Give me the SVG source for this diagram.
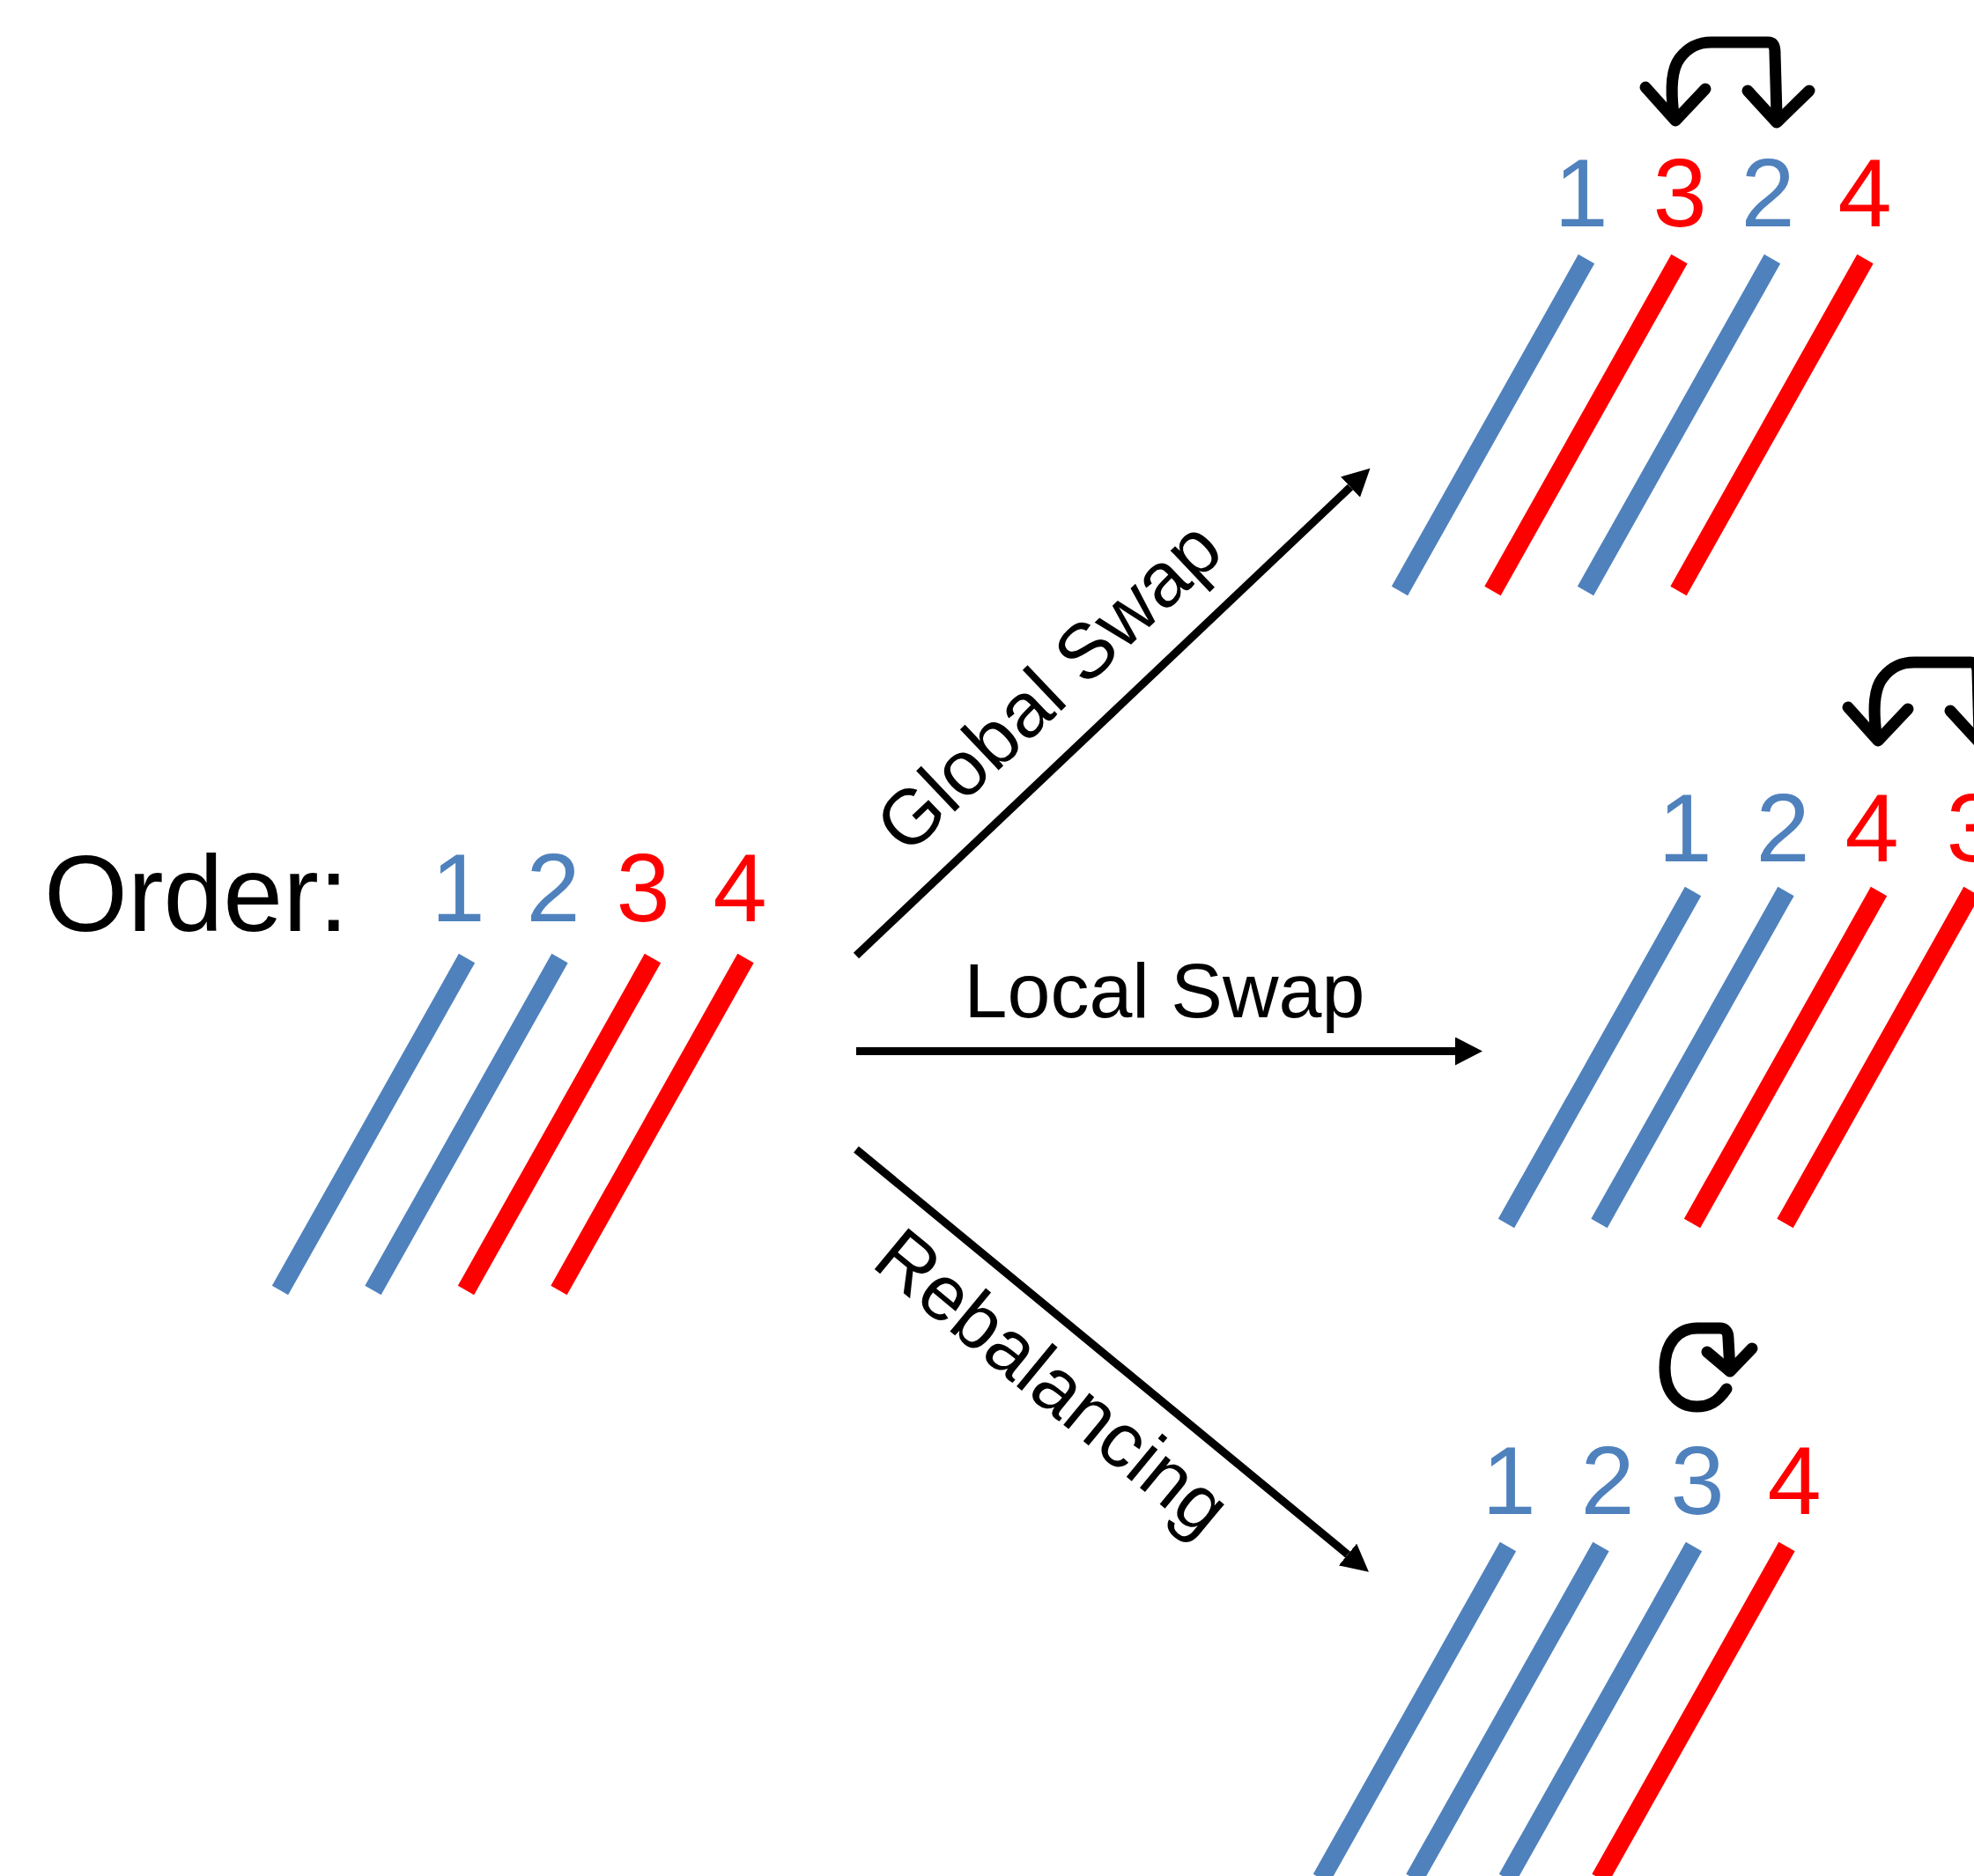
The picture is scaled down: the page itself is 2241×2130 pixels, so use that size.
<svg xmlns="http://www.w3.org/2000/svg" xmlns:xlink="http://www.w3.org/1999/xlink" width="2241" height="2130" viewBox="0 0 2241 2130">
  <style>
    .bar { stroke-width: 21; stroke-linecap: butt; fill: none; }
    .blue { stroke: #4F81BD; }
    .red { stroke: #FF0000; }
    .num { font-family: "Liberation Sans", Arial, sans-serif; font-size: 110px; text-anchor: middle; }
    .nb { fill: #4F81BD; }
    .nr { fill: #FF0000; }
    .label { font-family: "Liberation Sans", Arial, sans-serif; font-size: 88px; fill: #000; text-anchor: middle; }
    .conn { stroke: #000; stroke-width: 9; fill: none; marker-end: url(#tri); }
    .icon { stroke: #000; stroke-width: 13; fill: none; stroke-linecap: round; stroke-linejoin: round; }
  </style>
  <defs>
    <marker id="tri" markerUnits="userSpaceOnUse" markerWidth="32" markerHeight="32" refX="0" refY="16" orient="auto" viewBox="0 0 32 32">
      <path d="M0,0 L31,16 L0,32 Z" fill="#000"/>
    </marker>
    <!-- swap gesture: two hooked arrows pointing down, drawn with the left tip at 0,0 -->
    <g id="swap" class="icon">
      <path d="M-3,-8 C-7,-40 -5,-60 4,-72 C14,-85 25,-90 40,-90 L104,-90 C110,-90 112,-86 112,-78 L114,-8"/>
      <path d="M-35,-39 L-1,-1 L33,-37"/>
      <path d="M81,-35 L114,1 L151,-35"/>
    </g>
  </defs>

  <rect width="2241" height="2130" fill="#fff"/>

  <!-- starting order -->
  <g id="start">
    <text x="50" y="1057" font-family="Liberation Sans, Arial, sans-serif" font-size="122" fill="#000">Order:</text>
    <text class="num nb" x="520" y="1046">1</text>
    <text class="num nb" x="628" y="1046">2</text>
    <text class="num nr" x="730" y="1046">3</text>
    <text class="num nr" x="840" y="1046">4</text>
    <line class="bar blue" x1="530" y1="1088" x2="318" y2="1465"/>
    <line class="bar blue" x1="635.5" y1="1088" x2="423.5" y2="1465"/>
    <line class="bar red" x1="741" y1="1088" x2="529" y2="1465"/>
    <line class="bar red" x1="846.5" y1="1088" x2="634.5" y2="1465"/>
  </g>

  <!-- result of a global swap -->
  <g id="global-result">
    <use xlink:href="#swap" href="#swap" x="1903" y="138"/>
    <text class="num nb" x="1795" y="257">1</text>
    <text class="num nr" x="1907" y="257">3</text>
    <text class="num nb" x="2007" y="257">2</text>
    <text class="num nr" x="2117" y="257">4</text>
    <line class="bar blue" x1="1801" y1="294" x2="1589" y2="671"/>
    <line class="bar red" x1="1906.5" y1="294" x2="1694.5" y2="671"/>
    <line class="bar blue" x1="2012" y1="294" x2="1800" y2="671"/>
    <line class="bar red" x1="2117.5" y1="294" x2="1905.5" y2="671"/>
  </g>

  <!-- result of a local swap -->
  <g id="local-result">
    <use xlink:href="#swap" href="#swap" x="2133" y="842"/>
    <text class="num nb" x="1913" y="978">1</text>
    <text class="num nb" x="2024" y="978">2</text>
    <text class="num nr" x="2125" y="978">4</text>
    <text class="num nr" x="2240" y="978">3</text>
    <line class="bar blue" x1="1922" y1="1012" x2="1710" y2="1389"/>
    <line class="bar blue" x1="2027.5" y1="1012" x2="1815.5" y2="1389"/>
    <line class="bar red" x1="2133" y1="1012" x2="1921" y2="1389"/>
    <line class="bar red" x1="2238.5" y1="1012" x2="2026.5" y2="1389"/>
  </g>

  <!-- result of rebalancing -->
  <g id="rebalance-result">
    <g class="icon">
      <path d="M1960,1577 C1950,1592 1940,1597 1926,1597 C1905,1597 1890,1580 1890,1553 C1890,1525 1905,1508 1927,1508 L1952,1508 C1959,1508 1962,1512 1962,1520 L1964,1555"/>
      <path d="M1938,1535 L1964,1557 L1989,1531"/>
    </g>
    <text class="num nb" x="1713" y="1719">1</text>
    <text class="num nb" x="1825" y="1719">2</text>
    <text class="num nb" x="1927" y="1719">3</text>
    <text class="num nr" x="2037" y="1719">4</text>
    <line class="bar blue" x1="1712" y1="1756" x2="1500" y2="2133"/>
    <line class="bar blue" x1="1817.5" y1="1756" x2="1605.5" y2="2133"/>
    <line class="bar blue" x1="1923" y1="1756" x2="1711" y2="2133"/>
    <line class="bar red" x1="2028.5" y1="1756" x2="1816.5" y2="2133"/>
  </g>

  <!-- transitions -->
  <g id="connectors">
    <line class="conn" x1="972" y1="1085" x2="1533" y2="553"/>
    <line class="conn" x1="972" y1="1193.5" x2="1652" y2="1193.5"/>
    <line class="conn" x1="972" y1="1305" x2="1530" y2="1765"/>
    <text class="label" transform="translate(1211,801) rotate(-43.5)">Global Swap</text>
    <text class="label" x="1322" y="1155">Local Swap</text>
    <text class="label" transform="translate(1176,1592) rotate(39.5)">Rebalancing</text>
  </g>
</svg>
